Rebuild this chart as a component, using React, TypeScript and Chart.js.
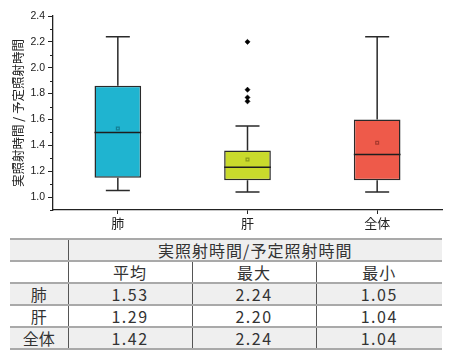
import React, { useEffect, useRef } from 'react';
import { Chart, registerables } from 'chart.js';
Chart.register(...registerables);

const categories = ['肺', '肝', '全体'];
const whiskerLow = [1.05, 1.04, 1.04];
const q1 = [1.15, 1.13, 1.13];
const median = [1.5, 1.23, 1.33];
const q3 = [1.86, 1.36, 1.6];
const whiskerHigh = [2.24, 1.55, 2.24];
const means = [1.53, 1.29, 1.42];
const outlierCategory = ['肝', '肝', '肝', '肝'];
const outlierValues = [2.2, 1.83, 1.77, 1.74];
const boxColors = ['#1fb4d0', '#c9da2c', '#ee5a4a'];
const meanColors = ['#137f95', '#8c9c1a', '#a8392e'];
const yMajorTicks = [1.0, 1.2, 1.4, 1.6, 1.8, 2.0, 2.2, 2.4];
const yMinorTicks = [0.9, 1.1, 1.3, 1.5, 1.7, 1.9, 2.1, 2.3];
const yMin = 0.9;
const yMax = 2.4;
const yAxisTitle = '実照射時間 / 予定照射時間';

const tableTitle = '実照射時間/予定照射時間';
const statLabels = ['平均', '最大', '最小'];
const tableMean = ['1.53', '1.29', '1.42'];
const tableMax = ['2.24', '2.20', '2.24'];
const tableMin = ['1.05', '1.04', '1.04'];

const boxPlugin = {
  id: 'boxWhiskers',
  afterDatasetsDraw(chart: any) {
    const ctx = chart.ctx;
    const xs = chart.scales.x;
    const ys = chart.scales.y;
    const meta = chart.getDatasetMeta(0);
    ctx.save();
    ctx.strokeStyle = '#2a2a2a';
    ctx.lineWidth = 1.5;
    categories.forEach((_, i) => {
      const x = xs.getPixelForValue(i);
      const bar = meta.data[i];
      const half = bar ? bar.width / 2 : 23;
      const cap = 12;
      const yLo = ys.getPixelForValue(whiskerLow[i]);
      const yQ1 = ys.getPixelForValue(q1[i]);
      const yQ3 = ys.getPixelForValue(q3[i]);
      const yHi = ys.getPixelForValue(whiskerHigh[i]);
      const yMed = ys.getPixelForValue(median[i]);
      ctx.beginPath();
      ctx.moveTo(x, yQ1);
      ctx.lineTo(x, yLo);
      ctx.moveTo(x - cap, yLo);
      ctx.lineTo(x + cap, yLo);
      ctx.moveTo(x, yQ3);
      ctx.lineTo(x, yHi);
      ctx.moveTo(x - cap, yHi);
      ctx.lineTo(x + cap, yHi);
      ctx.stroke();
      ctx.beginPath();
      ctx.strokeStyle = '#1e1e1e';
      ctx.moveTo(x - half, yMed);
      ctx.lineTo(x + half, yMed);
      ctx.stroke();
      ctx.strokeStyle = '#2a2a2a';
    });
    ctx.strokeStyle = '#222';
    ctx.lineWidth = 1;
    const left = chart.chartArea.left;
    yMinorTicks.forEach((v) => {
      const y = Math.round(ys.getPixelForValue(v)) + 0.5;
      ctx.beginPath();
      ctx.moveTo(left - 3, y);
      ctx.lineTo(left, y);
      ctx.stroke();
    });
    ctx.restore();
  },
};

function BoxChart() {
  const ref = useRef<HTMLCanvasElement | null>(null);
  useEffect(() => {
    if (!ref.current) return;
    const chart = new Chart(ref.current, {
      type: 'bar',
      data: {
        labels: categories,
        datasets: [
          {
            type: 'bar',
            data: categories.map((_, i) => [q1[i], q3[i]]) as any,
            backgroundColor: boxColors,
            borderColor: '#2a2a2a',
            borderWidth: 1.5,
            borderSkipped: false,
            categoryPercentage: 1,
            barPercentage: 0.36,
            order: 3,
          } as any,
          {
            type: 'line',
            data: means,
            showLine: false,
            pointStyle: 'rect',
            pointRadius: 2,
            pointBorderWidth: 1.2,
            pointBorderColor: meanColors,
            pointBackgroundColor: 'rgba(0,0,0,0)',
            order: 1,
          } as any,
          {
            type: 'line',
            data: outlierCategory.map((c, i) => ({ x: c, y: outlierValues[i] })),
            showLine: false,
            pointStyle: 'rectRot',
            pointRadius: 2.6,
            pointBorderWidth: 0.5,
            pointBorderColor: '#000',
            pointBackgroundColor: '#000',
            order: 0,
          } as any,
        ],
      },
      options: {
        animation: false,
        responsive: true,
        maintainAspectRatio: false,
        layout: { padding: { top: 16, right: 8, bottom: 0, left: 0 } },
        plugins: { legend: { display: false }, tooltip: { enabled: false } },
        scales: {
          x: {
            type: 'category',
            offset: true,
            grid: {
              display: true,
              drawOnChartArea: false,
              drawTicks: true,
              offset: false,
              tickLength: 4,
              color: '#222',
              lineWidth: 1,
            },
            border: { display: true, color: '#222', width: 1.3 },
            ticks: {
              color: '#222',
              padding: 1,
              font: { family: '"Noto Sans CJK JP", sans-serif', size: 13 },
            },
            afterFit: (s: any) => {
              s.height = 22;
            },
          },
          y: {
            min: yMin,
            max: yMax,
            afterBuildTicks: (s: any) => {
              s.ticks = yMajorTicks.map((v) => ({ value: v }));
            },
            grid: {
              display: true,
              drawOnChartArea: false,
              drawTicks: true,
              tickLength: 5,
              color: '#222',
              lineWidth: 1,
            },
            border: { display: true, color: '#222', width: 1.3 },
            ticks: {
              color: '#1a1a1a',
              padding: 3,
              font: { family: '"Liberation Sans", Arial, sans-serif', size: 10.5 },
              callback: (v: any) => Number(v).toFixed(1),
            },
            title: {
              display: true,
              text: yAxisTitle,
              color: '#222',
              padding: { top: 11, bottom: 0 },
              font: { family: '"Noto Sans CJK JP", sans-serif', size: 12.5 },
            },
            afterFit: (s: any) => {
              s.width = 53;
            },
          },
        },
      },
      plugins: [boxPlugin],
    });
    return () => chart.destroy();
  }, []);
  return (
    <div style={{ position: 'absolute', left: 0, top: 0, width: 450, height: 232 }}>
      <canvas ref={ref} />
    </div>
  );
}

const hLine = '2px solid #a9a9a9';
const vLine = '1.5px solid #555';

function DataTable() {
  const rows = categories.map((c, i) => [c, tableMean[i], tableMax[i], tableMin[i]]);
  const cell: React.CSSProperties = {
    padding: 0,
    height: 20,
    lineHeight: '20px',
    textAlign: 'center',
    borderTop: hLine,
    borderBottom: hLine,
    letterSpacing: 1,
  };
  return (
    <table
      style={{
        position: 'absolute',
        left: 10,
        top: 238,
        width: 432,
        borderCollapse: 'collapse',
        tableLayout: 'fixed',
        fontFamily: '"Noto Sans CJK JP", sans-serif',
        fontSize: 16,
        color: '#333',
      }}
    >
      <colgroup>
        <col style={{ width: 58 }} />
        <col style={{ width: 124 }} />
        <col style={{ width: 124 }} />
        <col style={{ width: 126 }} />
      </colgroup>
      <tbody>
        <tr style={{ background: '#efefef' }}>
          <td style={{ ...cell, borderRight: vLine }}></td>
          <td style={cell} colSpan={3}>
            {tableTitle}
          </td>
        </tr>
        <tr style={{ background: '#ffffff' }}>
          <td style={{ ...cell, borderRight: vLine }}></td>
          {statLabels.map((s, j) => (
            <td key={s} style={{ ...cell, borderRight: j < 2 ? vLine : undefined }}>
              {s}
            </td>
          ))}
        </tr>
        {rows.map((r, i) => (
          <tr key={r[0]} style={{ background: i % 2 === 0 ? '#efefef' : '#ffffff' }}>
            {r.map((v, j) => (
              <td key={j} style={{ ...cell, borderRight: j < 3 ? vLine : undefined, letterSpacing: j === 0 ? 0 : 1.5 }}>
                {v}
              </td>
            ))}
          </tr>
        ))}
      </tbody>
    </table>
  );
}

export default function App() {
  return (
    <div style={{ position: 'fixed', left: 0, top: 0, width: 450, height: 357, background: '#fff', overflow: 'hidden' }}>
      <BoxChart />
      <DataTable />
    </div>
  );
}
